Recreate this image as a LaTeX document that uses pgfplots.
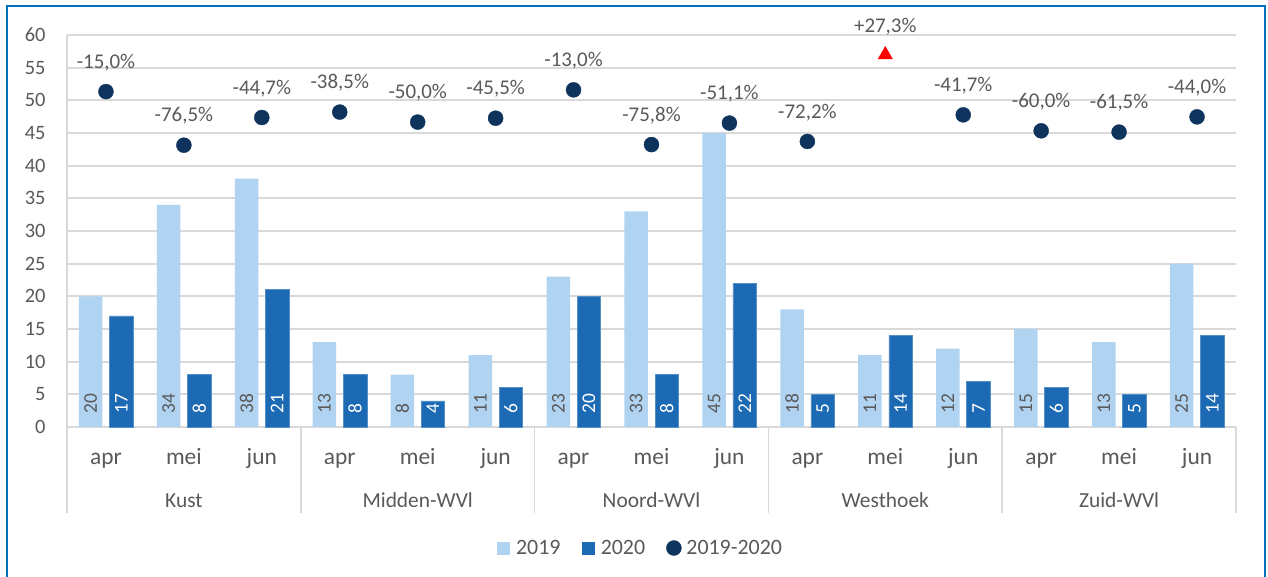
\documentclass[border=0pt]{standalone}
\usepackage{pgfplots}
\usepackage{pgfplotstable}
\pgfplotsset{compat=1.18}
\usepackage{fontspec}
\setmainfont{Carlito}
\definecolor{lightbar}{RGB}{177,211,242}
\definecolor{darkbar}{RGB}{28,106,180}
\definecolor{navy}{RGB}{14,52,94}
\definecolor{textgray}{RGB}{89,89,89}
\definecolor{gridgray}{RGB}{217,217,217}
\definecolor{borderblue}{RGB}{0,112,192}

\pgfplotstableread{
x y19 y20
0 20 17
1 34 8
2 38 21
3 13 8
4 8 4
5 11 6
6 23 20
7 33 8
8 45 22
9 18 5
10 11 14
11 12 7
12 15 6
13 13 5
14 25 14
}\bars

\begin{document}
\begin{tikzpicture}
\path[use as bounding box] (0,0) rectangle (1268bp,577bp);
\draw[borderblue, line width=2bp] (6.5bp,-10bp) rectangle (1264.5bp,571bp);
\begin{axis}[
  at={(67bp,150bp)}, anchor=south west, scale only axis,
  width=1169bp, height=392bp,
  xmin=-0.5, xmax=14.5, ymin=0, ymax=60,
  ytick={0,5,...,60},
  xtick={0,...,14},
  xticklabels={apr,mei,jun,apr,mei,jun,apr,mei,jun,apr,mei,jun,apr,mei,jun},
  major tick length=0pt,
  axis lines*=left,
  axis line style={gridgray, line width=1.7bp},
  ymajorgrids, grid style={gridgray, line width=1.7bp},
  tick label style={text=textgray},
  yticklabel style={font=\fontsize{20.5}{21}\selectfont, anchor=east, xshift=-18bp},
  xticklabel style={font=\fontsize{23.5}{24}\selectfont, anchor=base, yshift=-38bp},
  /pgf/number format/assume math mode=true,
  clip=false,
]
\addplot[ybar, bar width=23.5bp, bar shift=-15.3bp, fill=lightbar, draw=none,
  visualization depends on=rawy\as\rawy,
  nodes near coords,
  every node near coord/.style={font=\fontsize{19.5}{20}\selectfont, text=textgray,
     shift={(axis direction cs:0,-\rawy)}, xshift=-15.3bp, yshift=12bp, rotate=90, anchor=west, inner sep=1bp}]
  table[x=x,y=y19]{\bars};
\addplot[ybar, bar width=23.5bp, bar shift=15.3bp, fill=darkbar, draw=darkbar!75!white, line width=0.6bp,
  visualization depends on=rawy\as\rawy,
  nodes near coords,
  every node near coord/.style={font=\fontsize{19.5}{20}\selectfont, text=white,
     shift={(axis direction cs:0,-\rawy)}, xshift=15.3bp, yshift=12bp, rotate=90, anchor=west, inner sep=1bp}]
  table[x=x,y=y20]{\bars};
\foreach \s in {-0.5,2.5,5.5,8.5,11.5,14.5}{
  \edef\tmp{\noexpand\draw[gridgray, line width=1.7bp] (axis cs:\s,0) -- ++(0bp,-86bp);}\tmp
}
\begin{scope}[every node/.style={font=\fontsize{21.5}{22}\selectfont, text=textgray, anchor=base}]
\node at (axis cs:1,0) [yshift=-80bp] {Kust};
\node at (axis cs:4,0) [yshift=-80bp] {Midden-WVl};
\node at (axis cs:7,0) [yshift=-80bp] {Noord-WVl};
\node at (axis cs:10,0) [yshift=-80bp] {Westhoek};
\node at (axis cs:13,0) [yshift=-80bp] {Zuid-WVl};
\end{scope}
\end{axis}
\begin{axis}[
  at={(67bp,150bp)}, anchor=south west, scale only axis,
  width=1169bp, height=392bp,
  xmin=-0.5, xmax=14.5, ymin=-400, ymax=50,
  hide axis, clip=false,
  legend columns=3,
  legend style={draw=none, fill=none, font=\fontsize{22}{22}\selectfont, text=textgray,
    at={(0.4897,-0.3087)}, anchor=center, inner sep=0bp,
    nodes={inner sep=0bp},
    /tikz/every even column/.append style={column sep=21bp}},
]
\addlegendimage{legend image code/.code={\fill[lightbar] (0bp,-6bp) rectangle (12bp,6bp); \path[draw=none,fill=none] (0bp,0bp) rectangle (19bp,0.1bp);}}
\addlegendentry{2019}
\addlegendimage{legend image code/.code={\fill[darkbar] (0bp,-6bp) rectangle (12bp,6bp); \path[draw=none,fill=none] (0bp,0bp) rectangle (19bp,0.1bp);}}
\addlegendentry{2020}
\addlegendimage{legend image code/.code={\fill[navy] (7.5bp,0bp) circle (7.5bp); \path[draw=none,fill=none] (0bp,0bp) rectangle (20bp,0.1bp);}}
\addlegendentry{2019-2020}
\addplot[only marks, mark=*, mark size=7.5bp, navy, forget plot,
  nodes near coords, point meta=explicit symbolic,
  every node near coord/.append style={font=\fontsize{21}{21}\selectfont, text=textgray, anchor=center, yshift=29bp}]
  coordinates {
  (0,-15.0) [-15,0\%]
  (1,-76.5) [-76,5\%]
  (2,-44.7) [-44,7\%]
  (3,-38.5) [-38,5\%]
  (4,-50.0) [-50,0\%]
  (5,-45.5) [-45,5\%]
  (6,-13.0) [-13,0\%]
  (7,-75.8) [-75,8\%]
  (8,-51.1) [-51,1\%]
  (9,-72.2) [-72,2\%]
  (11,-41.7) [-41,7\%]
  (12,-60.0) [-60,0\%]
  (13,-61.5) [-61,5\%]
  (14,-44.0) [-44,0\%]
  };
\addplot[only marks, mark=triangle*, mark size=8.3bp, red, forget plot,
  nodes near coords, point meta=explicit symbolic,
  every node near coord/.append style={font=\fontsize{21}{21}\selectfont, text=textgray, anchor=center, yshift=28bp}]
  coordinates {(10,27.3) [+27,3\%]};
\end{axis}
\end{tikzpicture}
\end{document}
